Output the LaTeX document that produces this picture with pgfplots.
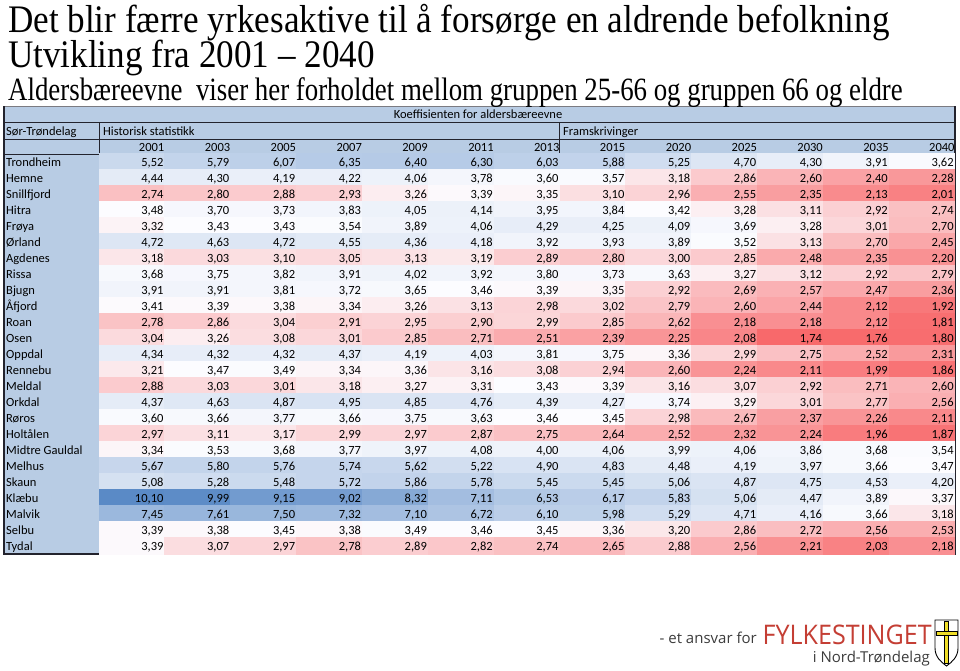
\documentclass[border=0pt]{standalone}
\usepackage{fontspec}
\setmainfont{Carlito}
\newfontfamily\titlefont{Liberation Serif}
\newfontfamily\logofont{Open Sans}
\usepackage{pgfplots}
\usepackage{pgfplotstable}
\pgfplotsset{compat=1.18}

\definecolor{hdr}{RGB}{184,204,228}
\definecolor{rule}{RGB}{35,35,45}
\definecolor{logored}{RGB}{196,62,52}
\definecolor{logogrey}{RGB}{60,60,60}
\definecolor{shieldyellow}{RGB}{240,222,40}
\definecolor{lowred}{RGB}{248,105,107}
\definecolor{midwhite}{RGB}{252,252,255}
\definecolor{highblue}{RGB}{90,138,198}
\colorlet{cellc}{midwhite}

% aldersbaereevne, one row per kommune, c0..c12 = 2001..2040
\pgfplotstableread{
name c0 c1 c2 c3 c4 c5 c6 c7 c8 c9 c10 c11 c12
Trondheim 5.52 5.79 6.07 6.35 6.40 6.30 6.03 5.88 5.25 4.70 4.30 3.91 3.62
Hemne 4.44 4.30 4.19 4.22 4.06 3.78 3.60 3.57 3.18 2.86 2.60 2.40 2.28
Snillfjord 2.74 2.80 2.88 2.93 3.26 3.39 3.35 3.10 2.96 2.55 2.35 2.13 2.01
Hitra 3.48 3.70 3.73 3.83 4.05 4.14 3.95 3.84 3.42 3.28 3.11 2.92 2.74
Frøya 3.32 3.43 3.43 3.54 3.89 4.06 4.29 4.25 4.09 3.69 3.28 3.01 2.70
Ørland 4.72 4.63 4.72 4.55 4.36 4.18 3.92 3.93 3.89 3.52 3.13 2.70 2.45
Agdenes 3.18 3.03 3.10 3.05 3.13 3.19 2.89 2.80 3.00 2.85 2.48 2.35 2.20
Rissa 3.68 3.75 3.82 3.91 4.02 3.92 3.80 3.73 3.63 3.27 3.12 2.92 2.79
Bjugn 3.91 3.91 3.81 3.72 3.65 3.46 3.39 3.35 2.92 2.69 2.57 2.47 2.36
Åfjord 3.41 3.39 3.38 3.34 3.26 3.13 2.98 3.02 2.79 2.60 2.44 2.12 1.92
Roan 2.78 2.86 3.04 2.91 2.95 2.90 2.99 2.85 2.62 2.18 2.18 2.12 1.81
Osen 3.04 3.26 3.08 3.01 2.85 2.71 2.51 2.39 2.25 2.08 1.74 1.76 1.80
Oppdal 4.34 4.32 4.32 4.37 4.19 4.03 3.81 3.75 3.36 2.99 2.75 2.52 2.31
Rennebu 3.21 3.47 3.49 3.34 3.36 3.16 3.08 2.94 2.60 2.24 2.11 1.99 1.86
Meldal 2.88 3.03 3.01 3.18 3.27 3.31 3.43 3.39 3.16 3.07 2.92 2.71 2.60
Orkdal 4.37 4.63 4.87 4.95 4.85 4.76 4.39 4.27 3.74 3.29 3.01 2.77 2.56
Røros 3.60 3.66 3.77 3.66 3.75 3.63 3.46 3.45 2.98 2.67 2.37 2.26 2.11
Holtålen 2.97 3.11 3.17 2.99 2.97 2.87 2.75 2.64 2.52 2.32 2.24 1.96 1.87
{Midtre Gauldal} 3.34 3.53 3.68 3.77 3.97 4.08 4.00 4.06 3.99 4.06 3.86 3.68 3.54
Melhus 5.67 5.80 5.76 5.74 5.62 5.22 4.90 4.83 4.48 4.19 3.97 3.66 3.47
Skaun 5.08 5.28 5.48 5.72 5.86 5.78 5.45 5.45 5.06 4.87 4.75 4.53 4.20
Klæbu 10.10 9.99 9.15 9.02 8.32 7.11 6.53 6.17 5.83 5.06 4.47 3.89 3.37
Malvik 7.45 7.61 7.50 7.32 7.10 6.72 6.10 5.98 5.29 4.71 4.16 3.66 3.18
Selbu 3.39 3.38 3.45 3.38 3.49 3.46 3.45 3.36 3.20 2.86 2.72 2.56 2.53
Tydal 3.39 3.07 2.97 2.78 2.89 2.82 2.74 2.65 2.88 2.56 2.21 2.03 2.18
}\ratios

\newcommand{\cellfont}{\fontsize{12.5}{14}\selectfont}

% one coloured table cell for the current point meta:
% red (1.74) - white (3.42) - blue (10.10)
\newcommand{\cellbox}{%
  \pgfmathfloatparsenumber{\pgfplotspointmeta}%
  \pgfmathfloattofixed{\pgfmathresult}%
  \let\cellv\pgfmathresult
  \ifdim\cellv pt<3.42pt
    \pgfmathtruncatemacro\cellpc{max(0,min(100,(\cellv-1.74)/1.68*100))}%
    \colorlet{cellc}{midwhite!\cellpc!lowred}%
  \else
    \pgfmathtruncatemacro\cellpc{max(0,min(100,(\cellv-3.42)/6.68*100))}%
    \colorlet{cellc}{highblue!\cellpc!midwhite}%
  \fi
  \setlength{\fboxsep}{0pt}%
  \colorbox{cellc}{\makebox[66.6pt][r]{\rule[-4.6pt]{0pt}{17.2pt}%
    \pgfmathprintnumber[use comma, fixed, fixed zerofill, precision=2,
      assume math mode=true]{\pgfplotspointmeta}\hspace{1.8pt}}}}

\begin{document}
\begin{tikzpicture}
\path[use as bounding box] (0,0) rectangle (960pt,670pt);
\begin{axis}[
    width=960pt, height=670pt, scale only axis,
    xmin=0, xmax=960, ymin=0, ymax=670, y dir=reverse,
    hide axis, clip=false]

  % header and name column background
  \fill[hdr] (axis cs:4,106) rectangle (axis cs:955,154);
  \fill[hdr] (axis cs:4,154) rectangle (axis cs:99,554);

  \pgfplotsinvokeforeach{0,...,12}{
    \addplot[only marks, mark=none, point meta=explicit,
      nodes near coords={\cellbox},
      nodes near coords style={anchor=center, inner sep=0pt,
        font=\cellfont, text=black}]
      table[x expr=99+65.85*(#1+0.5), y expr=162+16*\coordindex, meta=c#1] {\ratios};
  }

  \addplot[only marks, mark=none, point meta=explicit symbolic,
    nodes near coords,
    nodes near coords style={anchor=base west, yshift=-4pt,
      font=\cellfont, text=black, inner sep=0pt}]
    table[x expr=6, y expr=162+16*\coordindex, meta=name] {\ratios};

  % rules
  \draw[rule, line width=0.8pt] (axis cs:4,122) -- (axis cs:955,122);
  \draw[rule, line width=0.8pt] (axis cs:4,139) -- (axis cs:955,139);
  \draw[rule, line width=0.8pt] (axis cs:4,154) -- (axis cs:955,154);
  \draw[rule, line width=0.8pt] (axis cs:99,122) -- (axis cs:99,554);
  \draw[rule, line width=0.8pt] (axis cs:559,122) -- (axis cs:559,554);
  \draw[rule!60, line width=0.8pt] (axis cs:4,106) -- (axis cs:955,106);
  \draw[rule, line width=1.6pt] (axis cs:4,106) -- (axis cs:4,554) -- (axis cs:955,554) -- (axis cs:955,106);

  % header texts
  \node[anchor=base, font=\cellfont, inner sep=0pt] at (axis cs:478,118) {Koeffisienten for aldersbæreevne};
  \node[anchor=base west, font=\cellfont, inner sep=0pt] at (axis cs:6,135) {Sør-Trøndelag};
  \node[anchor=base west, font=\cellfont, inner sep=0pt] at (axis cs:103,135) {Historisk statistikk};
  \node[anchor=base west, font=\cellfont, inner sep=0pt] at (axis cs:563,135) {Framskrivinger};
  \node[anchor=base east, font=\cellfont, inner sep=0pt] at (axis cs:164.5,151) {2001};
  \node[anchor=base east, font=\cellfont, inner sep=0pt] at (axis cs:230.4,151) {2003};
  \node[anchor=base east, font=\cellfont, inner sep=0pt] at (axis cs:296.2,151) {2005};
  \node[anchor=base east, font=\cellfont, inner sep=0pt] at (axis cs:362.1,151) {2007};
  \node[anchor=base east, font=\cellfont, inner sep=0pt] at (axis cs:427.9,151) {2009};
  \node[anchor=base east, font=\cellfont, inner sep=0pt] at (axis cs:493.8,151) {2011};
  \node[anchor=base east, font=\cellfont, inner sep=0pt] at (axis cs:559.6,151) {2013};
  \node[anchor=base east, font=\cellfont, inner sep=0pt] at (axis cs:625.5,151) {2015};
  \node[anchor=base east, font=\cellfont, inner sep=0pt] at (axis cs:691.3,151) {2020};
  \node[anchor=base east, font=\cellfont, inner sep=0pt] at (axis cs:757.2,151) {2025};
  \node[anchor=base east, font=\cellfont, inner sep=0pt] at (axis cs:823.0,151) {2030};
  \node[anchor=base east, font=\cellfont, inner sep=0pt] at (axis cs:888.9,151) {2035};
  \node[anchor=base east, font=\cellfont, inner sep=0pt] at (axis cs:954.7,151) {2040};

  % titles
  \node[anchor=base west, inner sep=0pt] at (axis cs:8,32)
    {\scalebox{0.90}[1]{\titlefont\fontsize{39}{42}\selectfont Det blir færre yrkesaktive til å forsørge en aldrende befolkning}};
  \node[anchor=base west, inner sep=0pt] at (axis cs:8,67)
    {\scalebox{0.90}[1]{\titlefont\fontsize{39}{42}\selectfont Utvikling fra 2001 – 2040}};
  \node[anchor=base west, inner sep=0pt] at (axis cs:8,100)
    {\scalebox{0.826}[1]{\titlefont\fontsize{32.5}{35}\selectfont Aldersbæreevne\ \ viser her forholdet mellom gruppen 25-66 og gruppen 66 og eldre}};

  % logo
  \node[anchor=base east, inner sep=0pt, text=logogrey] at (axis cs:757,643)
    {\logofont\fontsize{15}{17}\selectfont - et ansvar for};
  \node[anchor=base east, inner sep=0pt, text=logored] at (axis cs:932,644)
    {\scalebox{0.93}[1]{\logofont\fontsize{27}{30}\selectfont FYLKESTINGET}};
  \node[anchor=base east, inner sep=0pt, text=logogrey] at (axis cs:930,662)
    {\logofont\fontsize{15}{17}\selectfont i Nord-Trøndelag};
  \filldraw[fill=white, draw=black, line width=0.9pt]
    (axis cs:935,620) -- (axis cs:958,620) -- (axis cs:958,648)
    .. controls (axis cs:958,657) and (axis cs:952,662) .. (axis cs:946.5,666)
    .. controls (axis cs:941,662) and (axis cs:935,657) .. (axis cs:935,648) -- cycle;
  \fill[shieldyellow, draw=black, line width=0.3pt] (axis cs:944.5,621) rectangle (axis cs:948.5,663);
  \fill[shieldyellow, draw=black, line width=0.3pt] (axis cs:936,631) rectangle (axis cs:957,635);
\end{axis}
\end{tikzpicture}
\end{document}
